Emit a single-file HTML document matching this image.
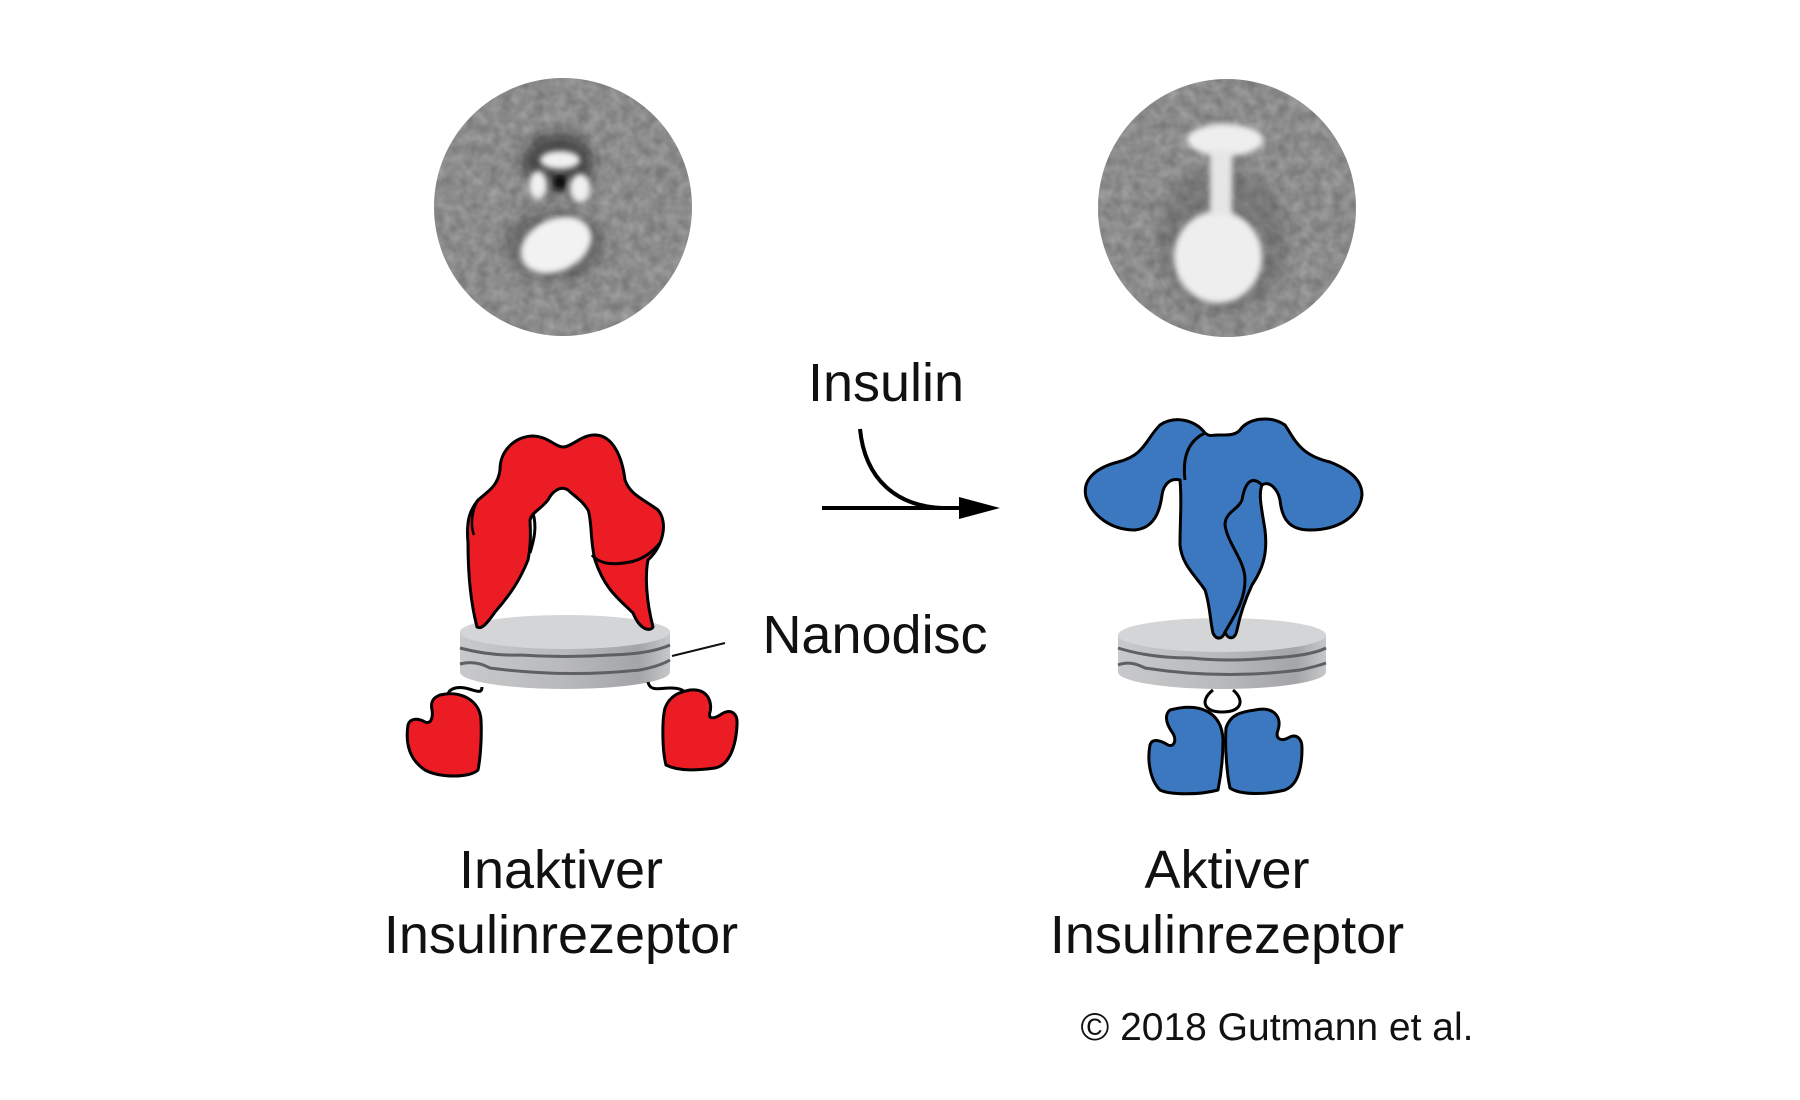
<!DOCTYPE html>
<html><head><meta charset="utf-8"><style>
html,body{margin:0;padding:0;background:#fff;}
svg{display:block}
text{font-family:"Liberation Sans",Arial,sans-serif;fill:#111}
</style></head><body>
<svg width="1800" height="1100" viewBox="0 0 1800 1100" xmlns="http://www.w3.org/2000/svg">
<defs>
<filter id="noise" x="0" y="0" width="100%" height="100%">
<feTurbulence type="fractalNoise" baseFrequency="0.09" numOctaves="2" seed="3"/>
<feColorMatrix type="matrix" values="0 0 0 0 0.45  0 0 0 0 0.45  0 0 0 0 0.45  0 0 0 1.2 -0.2"/>
</filter>
<filter id="bl"><feGaussianBlur stdDeviation="6"/></filter>
<filter id="bl2"><feGaussianBlur stdDeviation="3"/></filter>
<clipPath id="c1"><circle cx="563" cy="207" r="129"/></clipPath>
<clipPath id="c2"><circle cx="1227" cy="208" r="129"/></clipPath>
<linearGradient id="side" x1="0" x2="1" y1="0" y2="0">
<stop offset="0" stop-color="#c8c9cb"/><stop offset="0.5" stop-color="#b8b9bb"/><stop offset="0.85" stop-color="#a4a5a8"/><stop offset="1" stop-color="#c6c7c9"/>
</linearGradient>
</defs>

<!-- EM images -->
<g clip-path="url(#c1)">
<rect x="430" y="75" width="270" height="270" fill="#7a7a7a"/>
<rect x="430" y="75" width="270" height="270" filter="url(#noise)" opacity="0.8"/>
<g filter="url(#bl)">
<ellipse cx="558" cy="163" rx="36" ry="30" fill="#222" opacity="0.6"/>
<ellipse cx="555" cy="245" rx="50" ry="36" fill="#333" opacity="0.4"/>
</g>
<g filter="url(#bl2)">
<ellipse cx="556" cy="245" rx="37" ry="26" fill="#f2f2f2" transform="rotate(-25 556 245)"/>
<ellipse cx="560" cy="160" rx="20" ry="9" fill="#f0f0f0"/>
<ellipse cx="538" cy="185" rx="9" ry="14" fill="#f0f0f0"/>
<ellipse cx="580" cy="188" rx="10" ry="14" fill="#f0f0f0"/>
<ellipse cx="560" cy="182" rx="7" ry="8" fill="#111"/>
</g>
</g>
<g clip-path="url(#c2)">
<rect x="1095" y="75" width="270" height="270" fill="#7a7a7a"/>
<rect x="1095" y="75" width="270" height="270" filter="url(#noise)" opacity="0.8"/>
<g filter="url(#bl)">
<ellipse cx="1223" cy="240" rx="65" ry="75" fill="#444" opacity="0.3"/>
</g>
<g filter="url(#bl2)">
<ellipse cx="1218" cy="257" rx="44" ry="46" fill="#eeeeee"/>
<ellipse cx="1225" cy="140" rx="38" ry="16" fill="#eeeeee"/>
<rect x="1210" y="150" width="22" height="65" fill="#e6e6e6"/>
</g>
</g>

<!-- Left nanodisc -->
<g>
<path d="M460 632 L460 672 A105 17 0 0 0 670 672 L670 632 Z" fill="url(#side)"/>
<ellipse cx="565" cy="632" rx="105" ry="17" fill="#d4d5d7"/>
<path d="M460 648 Q490 656 520 655 Q565 658 610 655 Q650 654 670 645" fill="none" stroke="#5f6062" stroke-width="3"/>
<path d="M460 664 Q475 660 490 668 Q565 678 640 670 Q660 666 670 660" fill="none" stroke="#5f6062" stroke-width="3"/>
</g>
<line x1="672" y1="656" x2="725" y2="643" stroke="#111" stroke-width="2"/>

<!-- Red top -->
<path d="M477 627 C470 600 468 570 468 543 C466 520 470 510 478 500 C490 490 498 485 500 470 C500 450 515 437 532 436 C548 436 555 447 563 447 C572 447 582 434 596 435 C612 436 622 455 625 480 C630 495 645 500 658 510 C668 522 664 545 648 560 C645 575 646 600 653 627 C650 632 640 630 633 613 C620 600 605 590 595 560 C590 540 592 520 588 510 C582 500 574 496 568 490 C560 485 552 492 548 500 C540 510 532 512 530 520 C531 540 530 550 528 560 C520 580 510 595 495 612 C488 622 482 630 477 627 Z" fill="#ec1c24" stroke="#000" stroke-width="3" stroke-linejoin="round"/>
<path d="M533 513 C538 530 532 545 530 553" fill="none" stroke="#000" stroke-width="3"/>
<path d="M592 555 C600 565 615 565 630 562 C640 560 650 555 660 543" fill="none" stroke="#000" stroke-width="3"/>
<path d="M478 500 C472 510 470 525 474 535" fill="none" stroke="#000" stroke-width="2.5"/>

<!-- Red bottom lobes -->
<path d="M482 687 C482 695 475 690 465 688 C455 686 448 690 448 695" fill="none" stroke="#000" stroke-width="3"/>
<path d="M648 682 C650 692 660 688 670 688 C680 688 686 690 686 697" fill="none" stroke="#000" stroke-width="3"/>
<path d="M440 695 C460 690 480 700 481 720 C482 740 480 760 478 770 C470 778 440 778 425 770 C410 760 405 745 408 725 C410 718 418 718 425 722 C432 725 433 715 432 710 C430 700 435 697 440 695 Z" fill="#ec1c24" stroke="#000" stroke-width="3" stroke-linejoin="round"/>
<path d="M690 690 C710 688 712 705 710 712 C708 718 712 720 720 715 C730 708 738 712 737 725 C736 745 730 765 715 768 C700 770 680 772 666 765 C662 750 662 720 665 708 C670 695 680 692 690 690 Z" fill="#ec1c24" stroke="#000" stroke-width="3" stroke-linejoin="round"/>

<!-- Right nanodisc -->
<g>
<path d="M1118 635 L1118 672 A104 17 0 0 0 1326 672 L1326 635 Z" fill="url(#side)"/>
<ellipse cx="1222" cy="635" rx="104" ry="17" fill="#d4d5d7"/>
<path d="M1118 648 Q1150 658 1190 658 Q1230 662 1270 658 Q1310 656 1326 648" fill="none" stroke="#5f6062" stroke-width="3"/>
<path d="M1118 665 Q1130 660 1145 668 Q1222 680 1300 670 Q1318 666 1326 663" fill="none" stroke="#5f6062" stroke-width="3"/>
</g>

<!-- Blue small loop -->
<path d="M1213 690 C1200 700 1203 712 1222 712 C1242 712 1245 700 1233 690" fill="#fff" stroke="#000" stroke-width="3"/>
<!-- Blue lobes -->
<path d="M1170 710 C1200 702 1222 712 1223 740 C1223 760 1220 780 1218 790 C1200 795 1170 795 1160 790 C1150 780 1147 760 1150 745 C1152 738 1160 740 1168 745 C1175 748 1177 738 1172 732 C1165 722 1165 714 1170 710 Z" fill="#3b78bf" stroke="#000" stroke-width="3" stroke-linejoin="round"/>
<path d="M1255 710 C1275 706 1282 718 1278 730 C1275 738 1280 742 1288 738 C1296 733 1302 738 1302 748 C1302 768 1298 785 1285 790 C1265 795 1240 795 1230 788 C1226 770 1225 740 1226 728 C1230 715 1240 712 1255 710 Z" fill="#3b78bf" stroke="#000" stroke-width="3" stroke-linejoin="round"/>

<!-- Blue top -->
<path d="M1205 433 C1195 420 1175 415 1160 425 C1145 440 1145 455 1118 462 C1095 468 1082 480 1086 497 C1092 515 1110 530 1135 530 C1155 528 1160 510 1162 495 C1164 482 1172 478 1180 480 C1182 500 1180 520 1180 545 C1182 565 1195 575 1205 590 C1210 605 1210 620 1213 633 C1216 640 1222 640 1225 632 C1228 640 1235 640 1237 630 C1240 615 1245 600 1252 585 C1262 570 1268 555 1265 530 C1262 510 1258 495 1262 485 C1270 480 1278 490 1280 500 C1282 520 1290 530 1310 530 C1340 530 1360 515 1362 495 C1362 480 1350 470 1330 462 C1300 455 1295 440 1285 425 C1270 415 1248 418 1240 430 C1235 436 1225 435 1218 435 C1212 435 1210 437 1205 433 Z" fill="#3b78bf" stroke="#000" stroke-width="3" stroke-linejoin="round"/>
<path d="M1205 433 C1190 440 1182 455 1185 480" fill="none" stroke="#000" stroke-width="3"/>
<path d="M1262 485 C1252 475 1245 482 1242 500 C1238 510 1225 512 1225 525 C1228 545 1245 560 1245 580 C1245 600 1235 615 1225 632" fill="none" stroke="#000" stroke-width="3"/>

<!-- Arrow -->
<path d="M860 429 C865 480 897 506 942 508" fill="none" stroke="#000" stroke-width="4"/>
<line x1="822" y1="508" x2="967" y2="508" stroke="#000" stroke-width="4"/>
<polygon points="1000,508 959,497 959,519" fill="#000"/>

<!-- Labels -->
<text x="886" y="401" font-size="54" text-anchor="middle">Insulin</text>
<text x="875" y="653" font-size="54" text-anchor="middle">Nanodisc</text>
<text x="561" y="888" font-size="54" text-anchor="middle">Inaktiver</text>
<text x="561" y="953" font-size="54" text-anchor="middle">Insulinrezeptor</text>
<text x="1227" y="888" font-size="54" text-anchor="middle">Aktiver</text>
<text x="1227" y="953" font-size="54" text-anchor="middle">Insulinrezeptor</text>
<text x="1277" y="1040" font-size="39" text-anchor="middle">© 2018 Gutmann et al.</text>
</svg>
</body></html>
